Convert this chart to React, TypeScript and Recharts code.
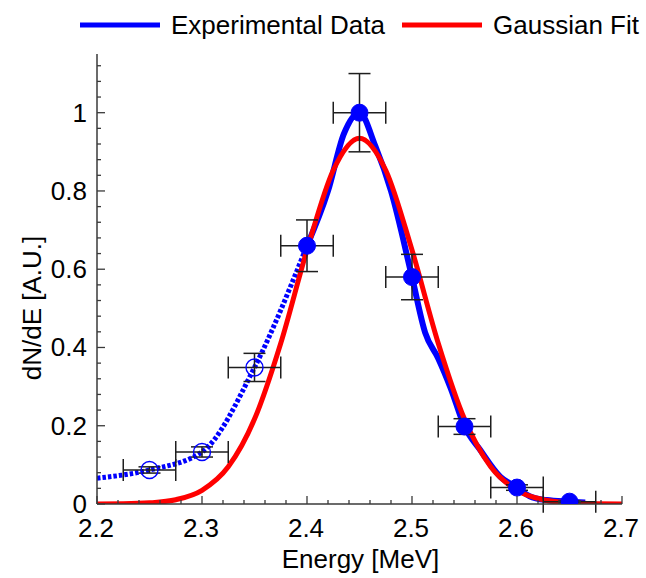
import React from 'react';
import { ComposedChart, Line, Scatter, XAxis, YAxis, ErrorBar, Legend, Label } from 'recharts';

// Measured points (energy in MeV, dN/dE in A.U.)
const pointEnergy = [2.25, 2.3, 2.35, 2.4, 2.45, 2.5, 2.55, 2.6, 2.65];
const pointYield = [0.087, 0.133, 0.349, 0.66, 1.0, 0.58, 0.198, 0.042, 0.006];
const pointYieldErr = [0.008, 0.013, 0.036, 0.066, 0.1, 0.058, 0.02, 0.007, 0.002];
const pointEnergyErr = [0.025, 0.025, 0.025, 0.025, 0.025, 0.025, 0.025, 0.025, 0.025];
const pointOpen = [true, true, true, false, false, false, false, false, false];

// Dotted low-energy tail of the experimental curve
const tailEnergy = [2.2, 2.25, 2.3, 2.35, 2.4];
const tailYield = [0.066, 0.087, 0.133, 0.349, 0.66];

// Solid experimental curve
const peakEnergy = [2.4, 2.42, 2.435, 2.45, 2.465, 2.48, 2.5, 2.5125, 2.525, 2.537, 2.55, 2.565, 2.584, 2.6, 2.612, 2.628, 2.65, 2.665];
const peakYield = [0.66, 0.8, 0.945, 1.0, 0.915, 0.8, 0.58, 0.438, 0.372, 0.295, 0.198, 0.138, 0.07, 0.042, 0.02, 0.01, 0.006, 0.004];

// Gaussian fit curve
const fitEnergy = [2.2, 2.225, 2.25, 2.275, 2.3, 2.325, 2.35, 2.375, 2.4, 2.425, 2.45, 2.475, 2.5, 2.525, 2.55, 2.575, 2.6, 2.625, 2.65, 2.675, 2.7];
const fitYield = [0.0001, 0.0006, 0.003, 0.011, 0.035, 0.095, 0.217, 0.411, 0.649, 0.853, 0.935, 0.853, 0.649, 0.411, 0.217, 0.095, 0.035, 0.011, 0.003, 0.0006, 0.0001];

// Axis ticks
const xTicks = [2.2, 2.22, 2.24, 2.26, 2.28, 2.3, 2.32, 2.34, 2.36, 2.38, 2.4, 2.42, 2.44, 2.46, 2.48, 2.5, 2.52, 2.54, 2.56, 2.58, 2.6, 2.62, 2.64, 2.66, 2.68, 2.7];
const yTicks = [0, 0.04, 0.08, 0.12, 0.16, 0.2, 0.24, 0.28, 0.32, 0.36, 0.4, 0.44, 0.48, 0.52, 0.56, 0.6, 0.64, 0.68, 0.72, 0.76, 0.8, 0.84, 0.88, 0.92, 0.96, 1.0, 1.04, 1.08, 1.12];
const xDomain = [2.2, 2.7];
const yDomain = [0, 1.15];

const legendLabels = ['Experimental Data', 'Gaussian Fit'];
const xTitle = 'Energy [MeV]';
const yTitle = 'dN/dE [A.U.]';

const BLUE = '#0000ff';
const RED = '#ff0000';
const INK = '#1e1e1e';
const AXIS = '#3a3a3a';
const FONT = '"Liberation Sans", Arial, sans-serif';
const FS = 26;

const points = pointEnergy.map((x, i) => ({
  x,
  y: pointYield[i],
  yErr: pointYieldErr[i],
  xErr: pointEnergyErr[i],
  open: pointOpen[i],
}));
const tailData = tailEnergy.map((x, i) => ({ x, y: tailYield[i] }));
const peakData = peakEnergy.map((x, i) => ({ x, y: peakYield[i] }));
const fitData = fitEnergy.map((x, i) => ({ x, y: fitYield[i] }));

const isMajorX = (v: number) => Math.abs(v * 10 - Math.round(v * 10)) < 1e-6;
const isMajorY = (v: number) => Math.abs(v * 5 - Math.round(v * 5)) < 1e-6;
const fmt = (v: number) => String(Number(v.toFixed(1)));

const MAJ = 8;
const MIN = 4;

const bottomTick = (p: any) => {
  const v = p.payload.value;
  const major = isMajorX(v);
  return (
    <g>
      <line x1={p.x} x2={p.x} y1={p.y} y2={p.y - (major ? MAJ : MIN)} stroke={AXIS} strokeWidth={1.3} />
      {major && (
        <text x={p.x - 1} y={p.y + 33} textAnchor="middle" fontSize={FS} fontFamily={FONT} fill="#000">
          {fmt(v)}
        </text>
      )}
    </g>
  );
};
const topTick = (p: any) => {
  const v = p.payload.value;
  const major = isMajorX(v);
  return <line x1={p.x} x2={p.x} y1={p.y} y2={p.y + (major ? MAJ : MIN)} stroke={AXIS} strokeWidth={1.3} />;
};
const leftTick = (p: any) => {
  const v = p.payload.value;
  const major = isMajorY(v);
  return (
    <g>
      <line x1={p.x} x2={p.x + (major ? MAJ : MIN)} y1={p.y} y2={p.y} stroke={AXIS} strokeWidth={1.3} />
      {major && (
        <text x={p.x - 10} y={p.y + 9} textAnchor="end" fontSize={FS} fontFamily={FONT} fill="#000">
          {fmt(v)}
        </text>
      )}
    </g>
  );
};
const rightTick = (p: any) => {
  const v = p.payload.value;
  const major = isMajorY(v);
  return <line x1={p.x} x2={p.x - (major ? MAJ : MIN)} y1={p.y} y2={p.y} stroke={AXIS} strokeWidth={1.3} />;
};

const renderXTitle = (p: any) => {
  const vb = p.viewBox;
  return (
    <text x={vb.x + vb.width / 2 + 1} y={vb.y + 64} textAnchor="middle" fontSize={FS} fontFamily={FONT} fill="#000">
      {xTitle}
    </text>
  );
};
const renderYTitle = (p: any) => {
  const vb = p.viewBox;
  const cx = vb.x + 41;
  const cy = vb.y + 254;
  return (
    <text x={cx} y={cy} textAnchor="middle" fontSize={FS} fontFamily={FONT} fill="#000" transform={`rotate(-90, ${cx}, ${cy})`}>
      {yTitle}
    </text>
  );
};

const renderMarker = (p: any) => {
  const open = p.payload && p.payload.open;
  return open ? (
    <circle cx={p.cx} cy={p.cy} r={8.5} fill="none" stroke={BLUE} strokeWidth={1.4} />
  ) : (
    <circle cx={p.cx} cy={p.cy} r={8.5} fill={BLUE} stroke={BLUE} strokeWidth={1} />
  );
};
const renderNothing = () => <g />;

const renderLegend = () => (
  <svg width={646} height={50} style={{ display: 'block' }}>
    <line x1={80} x2={160} y1={25} y2={25} stroke={BLUE} strokeWidth={5} />
    <text x={171} y={34} fontSize={FS} fontFamily={FONT} fill="#000">
      {legendLabels[0]}
    </text>
    <line x1={402} x2={482} y1={25} y2={25} stroke={RED} strokeWidth={5} />
    <text x={493} y={34} fontSize={FS} fontFamily={FONT} fill="#000">
      {legendLabels[1]}
    </text>
  </svg>
);

const axisLine = { stroke: AXIS, strokeWidth: 1.5 };

export default function App() {
  return (
    <div style={{ position: 'absolute', left: 0, top: 0, width: 646, height: 578, background: '#fff' }}>
      <ComposedChart width={646} height={578} margin={{ top: 54, right: 24, bottom: 0, left: 0 }}>
        <XAxis
          xAxisId="b"
          dataKey="x"
          type="number"
          orientation="bottom"
          domain={xDomain}
          ticks={xTicks}
          interval={0}
          height={74}
          tickLine={false}
          tickSize={0}
          tickMargin={0}
          axisLine={axisLine}
          tick={bottomTick}
          allowDataOverflow
        >
          <Label content={renderXTitle} />
        </XAxis>
        <XAxis
          xAxisId="t"
          dataKey="x"
          type="number"
          orientation="top"
          domain={xDomain}
          ticks={xTicks}
          interval={0}
          height={0}
          tickLine={false}
          tickSize={0}
          tickMargin={0}
          axisLine={axisLine}
          tick={topTick}
          allowDataOverflow
        />
        <YAxis
          yAxisId="l"
          dataKey="y"
          type="number"
          orientation="left"
          domain={yDomain}
          ticks={yTicks}
          interval={0}
          width={97}
          tickLine={false}
          tickSize={0}
          tickMargin={0}
          axisLine={axisLine}
          tick={leftTick}
          allowDataOverflow
        >
          <Label content={renderYTitle} />
        </YAxis>
        <YAxis
          yAxisId="r"
          dataKey="y"
          type="number"
          orientation="right"
          domain={yDomain}
          ticks={yTicks}
          interval={0}
          width={0}
          tickLine={false}
          tickSize={0}
          tickMargin={0}
          axisLine={axisLine}
          tick={rightTick}
          allowDataOverflow
        />
        <Legend verticalAlign="middle" align="center" wrapperStyle={{ position: 'absolute', top: 0, left: 0, width: 646, height: 50 }} content={renderLegend} />
        <Line
          xAxisId="b"
          yAxisId="l"
          data={tailData}
          dataKey="y"
          type="monotone"
          stroke={BLUE}
          strokeWidth={5}
          strokeDasharray="3.5 2"
          dot={false}
          activeDot={false}
          isAnimationActive={false}
        />
        <Line
          xAxisId="b"
          yAxisId="l"
          data={peakData}
          dataKey="y"
          type="monotone"
          stroke={BLUE}
          strokeWidth={6}
          dot={false}
          activeDot={false}
          isAnimationActive={false}
        />
        <Line
          xAxisId="b"
          yAxisId="l"
          data={fitData}
          dataKey="y"
          type="monotone"
          stroke={RED}
          strokeWidth={5}
          dot={false}
          activeDot={false}
          isAnimationActive={false}
        />
        <Scatter xAxisId="b" yAxisId="l" data={points} dataKey="y" shape={renderMarker} isAnimationActive={false} />
        <Scatter xAxisId="b" yAxisId="l" data={points} dataKey="y" shape={renderNothing} isAnimationActive={false}>
          <ErrorBar dataKey="yErr" direction="y" width={11} stroke={INK} strokeWidth={1.5} isAnimationActive={false} />
          <ErrorBar dataKey="xErr" direction="x" width={11} stroke={INK} strokeWidth={1.5} isAnimationActive={false} />
        </Scatter>
      </ComposedChart>
    </div>
  );
}
